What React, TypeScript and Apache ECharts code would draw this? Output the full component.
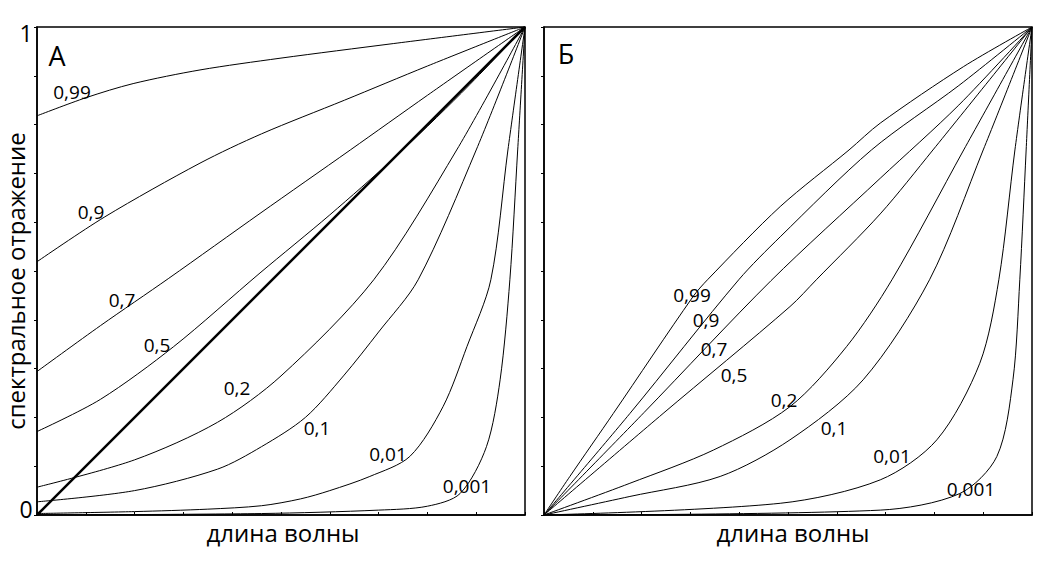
import React, { useEffect, useRef } from 'react';
import * as echarts from 'echarts';

// Curve names (parameter values)
const curveNames = ['0,99', '0,9', '0,7', '0,5', '0,2', '0,1', '0,01', '0,001'];

// Panel A: [wavelength (0..1), reflectance (0..1)]
const a099 = [[0, 0.818], [0.1, 0.855], [0.197, 0.884], [0.334, 0.912], [0.498, 0.936], [0.73, 0.966], [1, 1]];
const a09 = [[0, 0.519], [0.139, 0.611], [0.334, 0.721], [0.46, 0.781], [0.63, 0.85], [0.8, 0.92], [1, 1]];
const a07 = [[0, 0.294], [0.13, 0.388], [0.27, 0.485], [0.457, 0.618], [0.642, 0.748], [0.8, 0.86], [1, 1]];
const a05 = [[0, 0.171], [0.13, 0.237], [0.28, 0.345], [0.457, 0.496], [0.6, 0.615], [0.73, 0.73], [0.87, 0.865], [1, 1]];
const a02 = [[0, 0.057], [0.2, 0.113], [0.37, 0.19], [0.5, 0.285], [0.69, 0.482], [0.86, 0.748], [1, 1]];
const a01 = [[0, 0.027], [0.2, 0.05], [0.37, 0.094], [0.46, 0.14], [0.55, 0.2], [0.628, 0.285], [0.7, 0.375], [0.781, 0.482], [0.9, 0.748], [1, 1]];
const a001 = [[0, 0.003], [0.2, 0.007], [0.35, 0.012], [0.46, 0.019], [0.54, 0.033], [0.6, 0.05], [0.682, 0.079], [0.764, 0.12], [0.832, 0.222], [0.881, 0.345], [0.93, 0.482], [0.965, 0.748], [1, 1]];
const a0001 = [[0, 0], [0.46, 0.003], [0.7, 0.01], [0.8, 0.018], [0.867, 0.044], [0.921, 0.14], [0.949, 0.277], [0.969, 0.482], [0.985, 0.748], [1, 1]];
const aDiagonal = [[0, 0], [1, 1]];
const aCurves = [a099, a09, a07, a05, a02, a01, a001, a0001];

// Panel Б
const b099 = [[0, 0], [0.053, 0.079], [0.142, 0.208], [0.305, 0.447], [0.335, 0.482], [0.484, 0.632], [0.625, 0.748], [0.689, 0.803], [0.86, 0.919], [1, 1]];
const b09 = [[0, 0], [0.176, 0.208], [0.399, 0.482], [0.484, 0.57], [0.671, 0.748], [0.85, 0.88], [1, 1]];
const b07 = [[0, 0], [0.205, 0.21], [0.465, 0.48], [0.689, 0.69], [0.85, 0.84], [1, 1]];
const b05 = [[0, 0], [0.244, 0.208], [0.504, 0.427], [0.558, 0.482], [0.689, 0.617], [0.797, 0.748], [1, 1]];
const b02 = [[0, 0], [0.176, 0.065], [0.347, 0.133], [0.504, 0.222], [0.62, 0.345], [0.713, 0.482], [0.86, 0.748], [1, 1]];
const b01 = [[0, 0], [0.176, 0.038], [0.361, 0.079], [0.504, 0.154], [0.654, 0.277], [0.79, 0.482], [0.9, 0.748], [1, 1]];
const b001 = [[0, 0], [0.484, 0.024], [0.689, 0.072], [0.805, 0.154], [0.893, 0.311], [0.932, 0.482], [0.965, 0.748], [1, 1]];
const b0001 = [[0, 0], [0.689, 0.01], [0.852, 0.044], [0.928, 0.12], [0.961, 0.277], [0.975, 0.482], [0.988, 0.748], [1, 1]];
const bCurves = [b099, b09, b07, b05, b02, b01, b001, b0001];

// Axis texts
const yTickLabels = ['1', '0'];
const xTitle = 'длина волны';
const yTitle = 'спектральное отражение';
const panelTitles = ['А', 'Б'];

const FONT = "'Open Sans', 'DejaVu Sans', sans-serif";

// Label placement (pixels)
const aLabelXY = [[72, 92], [91, 212], [122, 300], [157, 345], [237, 388], [317, 428], [388, 454], [467, 486]];
const bLabelXY = [[692, 295], [706, 320], [714, 349], [734, 375], [784, 400], [834, 428], [892, 456], [971, 489]];

export default function App() {
  const ref = useRef<HTMLDivElement>(null);
  useEffect(() => {
    if (!ref.current) return;
    const chart = echarts.init(ref.current, null, { renderer: 'svg' });
    const gridA = { left: 37, top: 27, width: 488, height: 488 };
    const gridB = { left: 544, top: 27, width: 488, height: 488 };
    const mkX = (gi: number) => ({
      type: 'value', gridIndex: gi, min: 0, max: 1, interval: 0.1,
      axisLine: { show: true, lineStyle: { color: '#000', width: 1.5 } },
      axisTick: { show: true, inside: true, length: 3, lineStyle: { color: '#000' } },
      axisLabel: { show: false }, splitLine: { show: false },
    });
    const mkY = (gi: number) => ({
      type: 'value', gridIndex: gi, min: 0, max: 1, interval: 0.1,
      axisLine: { show: true, lineStyle: { color: '#000', width: 1.5 } },
      axisTick: { show: true, inside: false, length: 3, lineStyle: { color: '#000' } },
      axisLabel: { show: false }, splitLine: { show: false },
    });
    const series: any[] = [];
    aCurves.forEach((c, i) => series.push({
      type: 'line', name: 'A ' + curveNames[i], xAxisIndex: 0, yAxisIndex: 0, data: c,
      showSymbol: false, smooth: 0.3, lineStyle: { color: '#000', width: 1 }, silent: true,
    }));
    series.push({
      type: 'line', name: 'A diagonal', xAxisIndex: 0, yAxisIndex: 0, data: aDiagonal,
      showSymbol: false, lineStyle: { color: '#000', width: 2.5 }, silent: true,
    });
    bCurves.forEach((c, i) => series.push({
      type: 'line', name: 'Б ' + curveNames[i], xAxisIndex: 1, yAxisIndex: 1, data: c,
      showSymbol: false, smooth: 0.3, lineStyle: { color: '#000', width: 1 }, silent: true,
    }));
    const txt = (x: number, y: number, text: string, size: number, rot = 0) => ({
      type: 'text', x, y, rotation: rot, silent: true,
      style: { text, font: `${size}px ${FONT}`, fill: '#000', textAlign: 'center', textVerticalAlign: 'middle' },
    });
    const graphics: any[] = [];
    curveNames.forEach((n, i) => {
      graphics.push(txt(aLabelXY[i][0], aLabelXY[i][1], n, 19));
      graphics.push(txt(bLabelXY[i][0], bLabelXY[i][1], n, 19));
    });
    graphics.push(txt(26, 33, yTickLabels[0], 23));
    graphics.push(txt(26, 509, yTickLabels[1], 23));
    graphics.push(txt(57, 55, panelTitles[0], 27));
    graphics.push(txt(566, 53, panelTitles[1], 27));
    graphics.push(txt(283, 532, xTitle, 24));
    graphics.push(txt(793, 532, xTitle, 24));
    graphics.push(txt(15, 281, yTitle, 24, Math.PI / 2));

    chart.setOption({
      animation: false,
      backgroundColor: '#fff',
      grid: [
        { ...gridA, show: true, borderColor: '#000', borderWidth: 1.5, backgroundColor: 'transparent' },
        { ...gridB, show: true, borderColor: '#000', borderWidth: 1.5, backgroundColor: 'transparent' },
      ],
      xAxis: [mkX(0), mkX(1)],
      yAxis: [mkY(0), mkY(1)],
      series,
      graphic: graphics,
    });
    return () => chart.dispose();
  }, []);
  return <div ref={ref} style={{ position: 'fixed', left: 0, top: 0, width: 1043, height: 564 }} />;
}
